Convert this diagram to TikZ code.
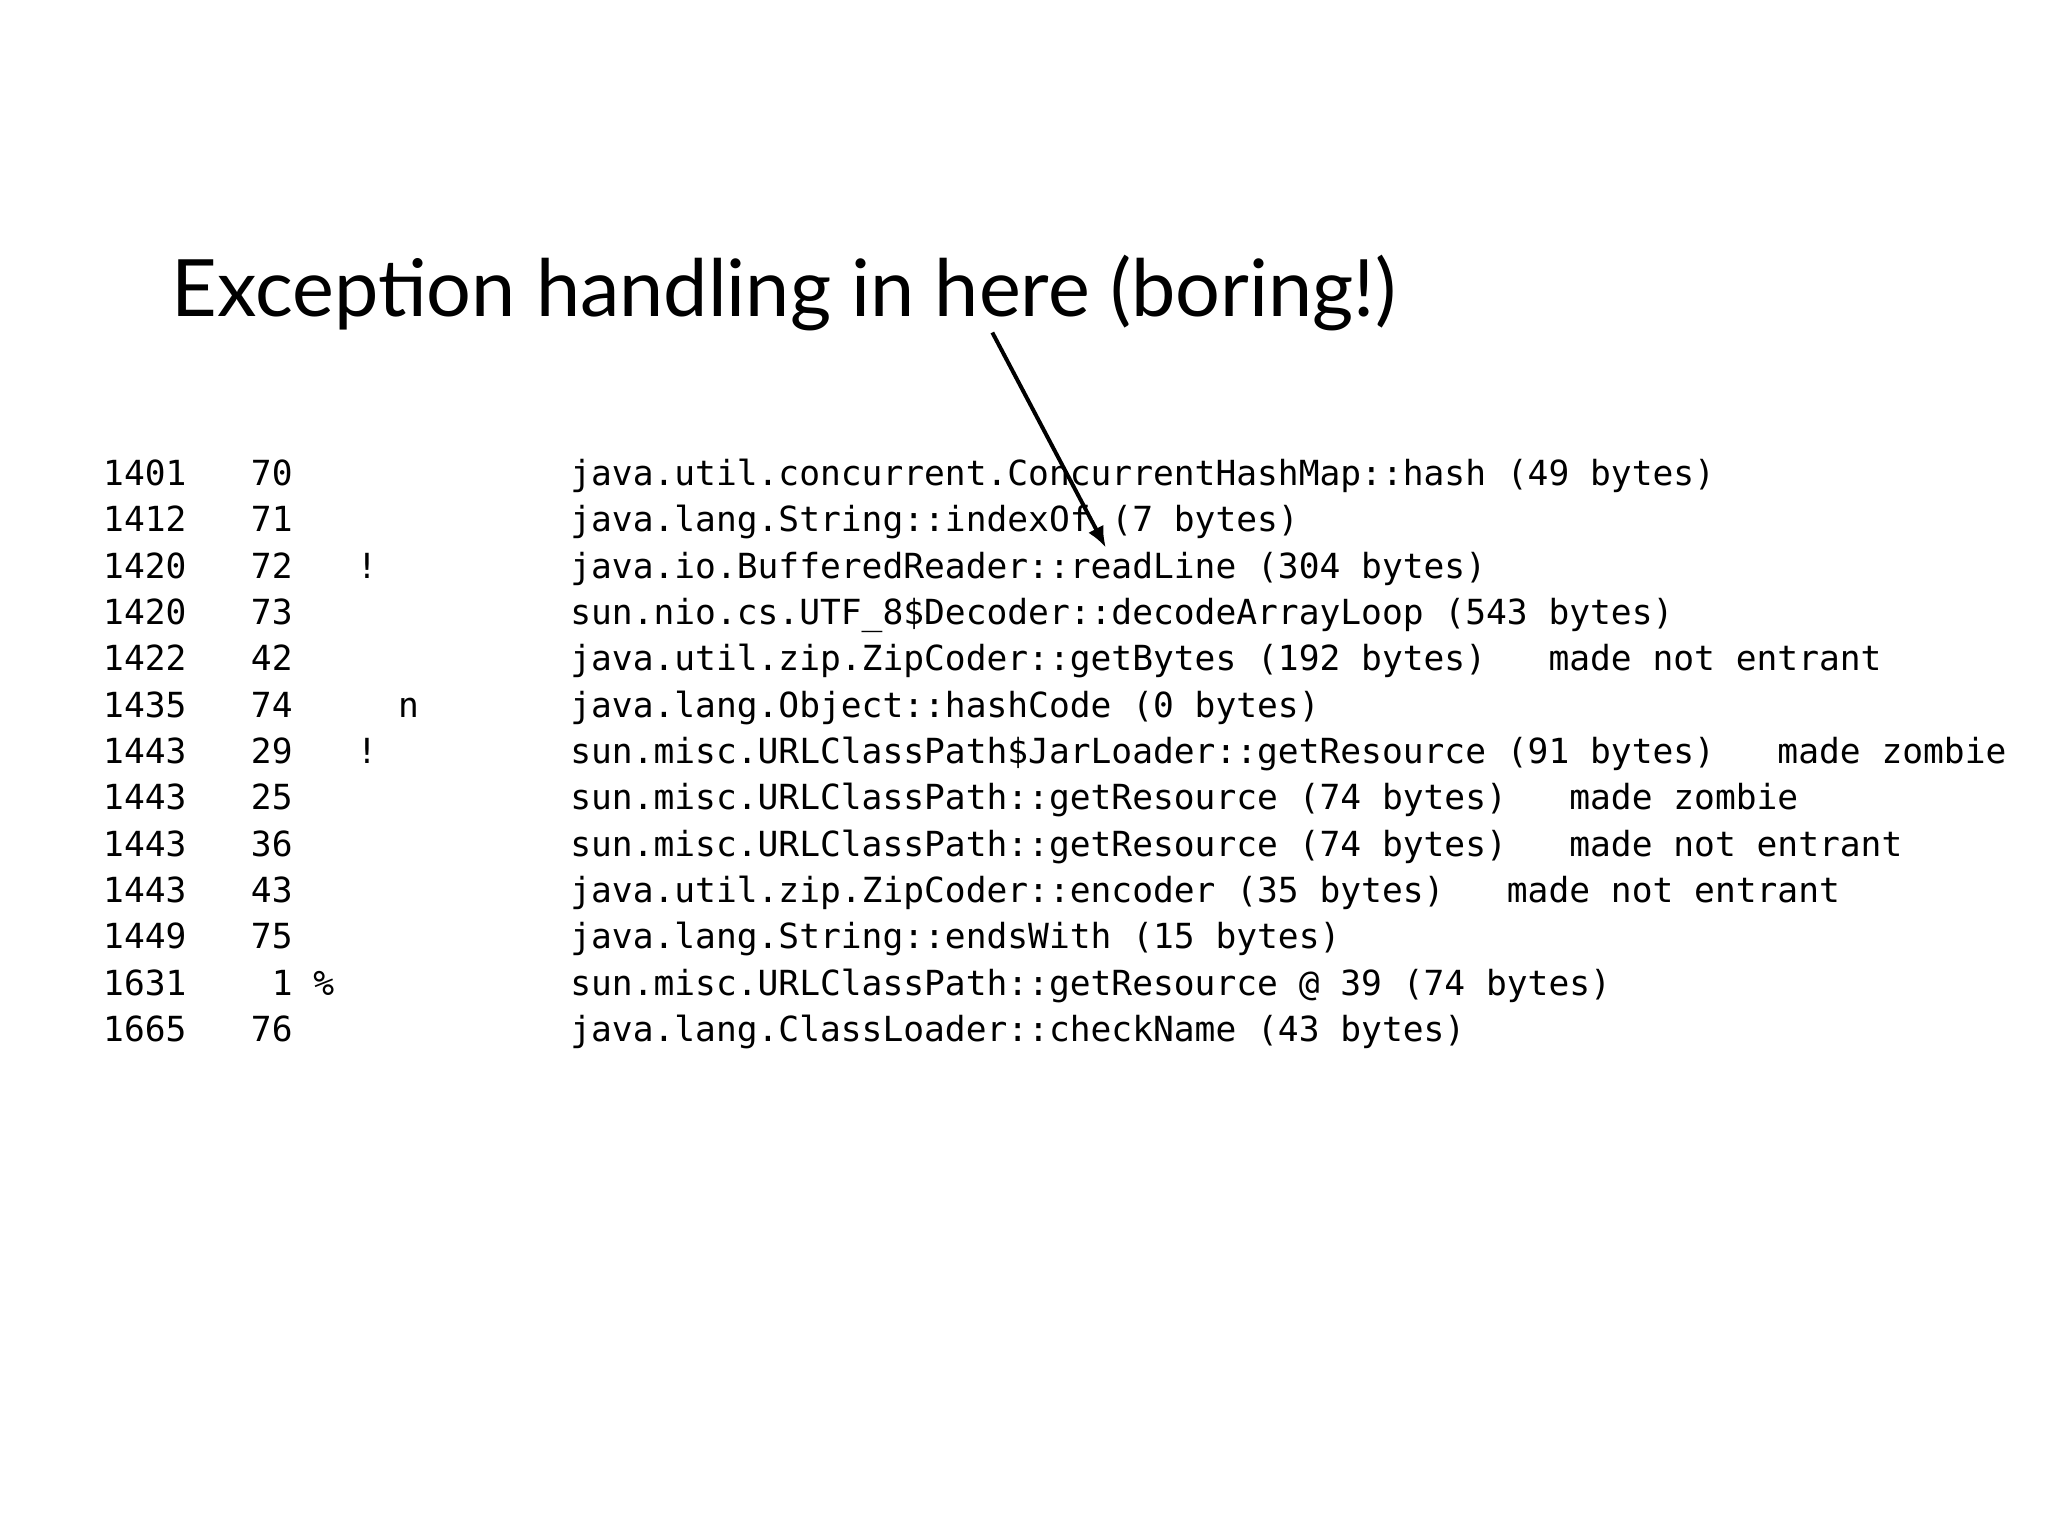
\documentclass[tikz,border=0pt]{standalone}
\usepackage{fontspec}
\usetikzlibrary{arrows.meta}
\setmainfont{Lato}
\setmonofont{DejaVu Sans Mono}
\begin{document}
\begin{tikzpicture}[x=1pt,y=-1pt,
  code/.style={anchor=base west,inner sep=0pt,font=\ttfamily\fontsize{26.2}{30}\selectfont}]
\useasboundingbox[fill=white] (0,0) rectangle (1552,1164);
\node[anchor=base west,inner sep=0pt,font=\fontsize{60}{70}\selectfont] (title) at (130,240) {Exception handling in here (boring!)};
\def\rows{1401/70//java.util.concurrent.ConcurrentHashMap::hash (49 bytes),
1412/71//java.lang.String::indexOf (7 bytes),
1420/72/!/java.io.BufferedReader::readLine (304 bytes),
1420/73//sun.nio.cs.UTF\_8\$Decoder::decodeArrayLoop (543 bytes),
1422/42//java.util.zip.ZipCoder::getBytes (192 bytes)~~~made not entrant,
1435/74/~~n/java.lang.Object::hashCode (0 bytes),
1443/29/!/sun.misc.URLClassPath\$JarLoader::getResource (91 bytes)~~~made zombie,
1443/25//sun.misc.URLClassPath::getResource (74 bytes)~~~made zombie,
1443/36//sun.misc.URLClassPath::getResource (74 bytes)~~~made not entrant,
1443/43//java.util.zip.ZipCoder::encoder (35 bytes)~~~made not entrant,
1449/75//java.lang.String::endsWith (15 bytes),
1631/~1 \%//sun.misc.URLClassPath::getResource @ 39 (74 bytes),
1665/76//java.lang.ClassLoader::checkName (43 bytes)}
\foreach \a/\b/\c/\d [count=\i] in \rows {
  \node[code] (t\i) at (78,{368+(\i-1)*35.1}) {\a};
  \node[code] (n\i) at (190,{368+(\i-1)*35.1}) {\b};
  \node[code] (f\i) at (270,{368+(\i-1)*35.1}) {\c};
  \node[code] (m\i) at (432,{368+(\i-1)*35.1}) {\d};
}
\coordinate (as) at (752,252);
\coordinate (ae) at (838,415);
\draw[line width=3pt,-{Latex[length=16pt,width=13pt]}] (as) -- (ae);
\end{tikzpicture}
\end{document}
